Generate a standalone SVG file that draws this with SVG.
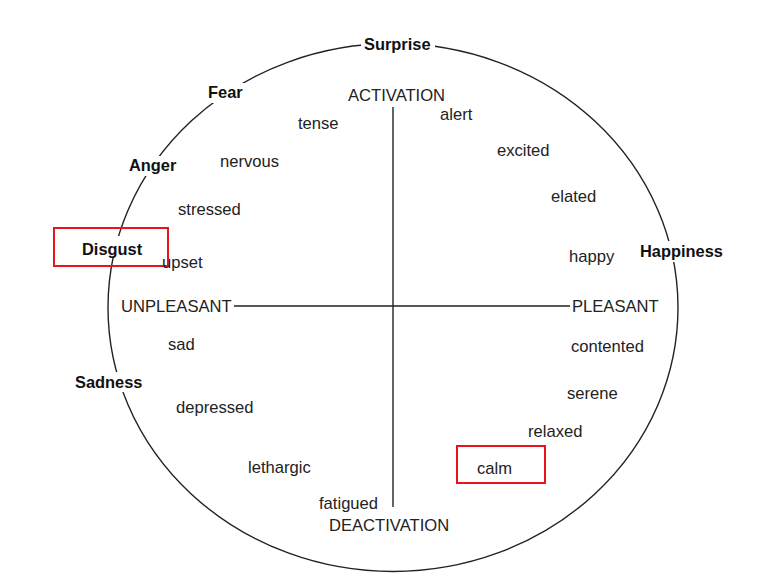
<svg xmlns="http://www.w3.org/2000/svg" width="779" height="586" viewBox="0 0 779 586">
<style>
text{font-family:"Liberation Sans",Arial,sans-serif;fill:#222;font-size:16.6px}
.b{font-weight:bold;fill:#111;font-size:16.4px}
.bg{fill:#fff}
.hl{fill:none;stroke:#e8141b;stroke-width:2}
.ln{stroke:#222;stroke-width:1.4;fill:none}
</style>
<rect width="779" height="586" fill="#fff"/>
<ellipse id="circumplex" class="ln" cx="393" cy="307.5" rx="285" ry="264"/>
<g id="connectors">
<line class="ln" x1="393" y1="107" x2="393" y2="507"/>
<line class="ln" x1="234" y1="306" x2="570" y2="306"/>
</g>
<g id="surprise"><rect class="bg" x="361" y="34" width="74" height="20"/><text class="b" x="364" y="50">Surprise</text></g>
<g id="fear"><rect class="bg" x="205" y="83" width="41" height="20"/><text class="b" x="208" y="98">Fear</text></g>
<g id="anger"><rect class="bg" x="126" y="156" width="54" height="20"/><text class="b" x="129" y="171">Anger</text></g>
<g id="disgust"><rect class="bg" x="80" y="236" width="66" height="20"/><text class="b" x="82" y="255">Disgust</text><rect class="hl" x="54" y="228" width="114" height="38"/></g>
<g id="happiness"><rect class="bg" x="638" y="241" width="88" height="21"/><text class="b" x="640" y="257">Happiness</text></g>
<g id="sadness"><rect class="bg" x="73" y="372" width="72" height="20"/><text class="b" x="75" y="388">Sadness</text></g>
<g id="activation"><text x="348" y="101">ACTIVATION</text></g>
<g id="deactivation"><text x="329" y="531">DEACTIVATION</text></g>
<g id="unpleasant"><text x="121" y="312">UNPLEASANT</text></g>
<g id="pleasant"><text x="572" y="312">PLEASANT</text></g>
<g id="tense"><text x="298" y="129">tense</text></g>
<g id="alert"><text x="440" y="120">alert</text></g>
<g id="nervous"><text x="220" y="167">nervous</text></g>
<g id="excited"><text x="497" y="156">excited</text></g>
<g id="elated"><text x="551" y="202">elated</text></g>
<g id="stressed"><text x="178" y="215">stressed</text></g>
<g id="upset"><text x="162" y="268">upset</text></g>
<g id="happy"><text x="569" y="262">happy</text></g>
<g id="sad"><text x="168" y="350">sad</text></g>
<g id="contented"><text x="571" y="352">contented</text></g>
<g id="serene"><text x="567" y="399">serene</text></g>
<g id="depressed"><text x="176" y="413">depressed</text></g>
<g id="relaxed"><text x="528" y="437">relaxed</text></g>
<g id="calm"><text x="477" y="474">calm</text><rect class="hl" x="457" y="446" width="88" height="37"/></g>
<g id="lethargic"><text x="248" y="473">lethargic</text></g>
<g id="fatigued"><text x="319" y="509">fatigued</text></g>
</svg>
